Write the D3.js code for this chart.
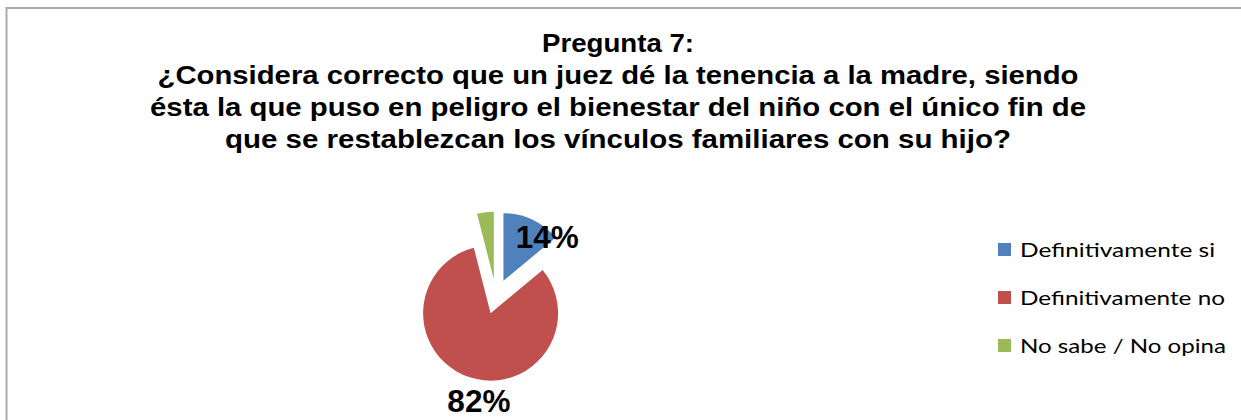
<!DOCTYPE html>
<html>
<head>
<meta charset="utf-8">
<script src="https://cdn.jsdelivr.net/npm/d3@7"></script>
<style>
  html, body { margin: 0; padding: 0; background: #fff; }
  svg { display: block; }
</style>
</head>
<body>
<svg id="chart" width="1241" height="420"></svg>
<script>
const titleLines = [
  "Pregunta 7:",
  "¿Considera correcto que un juez dé la tenencia a la madre, siendo",
  "ésta la que puso en peligro el bienestar del niño con el único fin de",
  "que se restablezcan los vínculos familiares con su hijo?"
];
const categories = ["Definitivamente si", "Definitivamente no", "No sabe / No opina"];
const values = [14, 82, 4];
const labels = ["14%", "82%", ""];
const colors = ["#4F81BD", "#C0504D", "#9BBB59"];

// horizontal widths of the rendered texts in the reference (the original is stretched)
const titleWidths = [152, 921, 936, 786];
const legendWidths = [195, 205, 206];

const svg = d3.select("#chart");

// chart border (clipped at right/bottom)
svg.append("path")
  .attr("d", "M6.5,420 L6.5,8 L1241,8")
  .attr("fill", "none")
  .attr("stroke", "#ababab")
  .attr("stroke-width", 2);

// title
const title = svg.append("g")
  .attr("font-family", "'Liberation Sans', Arial, sans-serif")
  .attr("font-weight", "bold")
  .attr("font-size", 25)
  .attr("fill", "#000");
titleLines.forEach((t, i) => {
  title.append("text")
    .attr("text-anchor", "middle")
    .attr("x", 618).attr("y", 52 + i * 32)
    .attr("textLength", titleWidths[i])
    .attr("lengthAdjust", "spacingAndGlyphs")
    .text(t);
});

// pie
const cx = 496, cy = 296.5, r = 67.5, explode = 17.5;
const pie = d3.pie().sort(null).startAngle(0).endAngle(2 * Math.PI);
const arcs = pie(values);
const arc = d3.arc().innerRadius(0).outerRadius(r);

const g = svg.append("g").attr("transform", `translate(${cx},${cy})`);
const slices = g.selectAll("g.slice").data(arcs).enter().append("g")
  .attr("class", "slice")
  .attr("transform", d => {
    const a = (d.startAngle + d.endAngle) / 2;
    return `translate(${explode * Math.sin(a)},${-explode * Math.cos(a)})`;
  });
slices.append("path")
  .attr("d", arc)
  .attr("fill", (d, i) => colors[i]);

// data labels (positioned relative to each exploded slice)
const labelOffset = [
  { rad: 62, ang: 45, dy: 11 },
  { rad: 96, ang: 187, dy: 4 },
  { rad: 0, ang: 0, dy: 0 }
];
slices.append("text")
  .attr("text-anchor", "middle")
  .attr("font-family", "'Liberation Sans', Arial, sans-serif")
  .attr("font-weight", "bold")
  .attr("font-size", 31.5)
  .attr("fill", "#000")
  .attr("x", (d, i) => labelOffset[i].rad * Math.sin(labelOffset[i].ang * Math.PI / 180))
  .attr("y", (d, i) => -labelOffset[i].rad * Math.cos(labelOffset[i].ang * Math.PI / 180) + labelOffset[i].dy)
  .text((d, i) => labels[i]);

// legend
const legend = svg.append("g").attr("transform", "translate(998,243)");
const items = legend.selectAll("g").data(categories).enter().append("g")
  .attr("transform", (d, i) => `translate(0,${i * 48})`);
items.append("rect")
  .attr("width", 13).attr("height", 13)
  .attr("fill", (d, i) => colors[i]);
items.append("text")
  .attr("x", 22).attr("y", 13.5)
  .attr("font-family", "Lato, 'Open Sans', sans-serif")
  .attr("font-size", 20)
  .attr("fill", "#000")
  .attr("textLength", (d, i) => legendWidths[i])
  .attr("lengthAdjust", "spacingAndGlyphs")
  .text(d => d);
</script>
</body>
</html>
